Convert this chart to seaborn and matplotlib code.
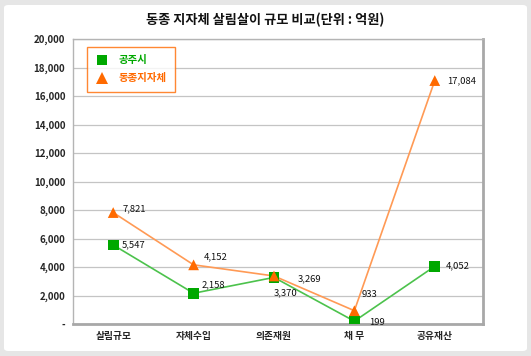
import matplotlib
matplotlib.use("Agg")
import matplotlib.pyplot as plt
import matplotlib.patches as mpatches
from matplotlib.lines import Line2D
import seaborn as sns
import pandas as pd

categories = ["살림규모", "자체수입", "의존재원", "채 무", "공유재산"]
gongju = [5547, 2158, 3269, 199, 4052]
peer = [7821, 4152, 3370, 933, 17084]
series_names = ["공주시", "동종지자체"]
y_ticks = [0, 2000, 4000, 6000, 8000, 10000, 12000, 14000, 16000, 18000, 20000]

# label offsets in points (dx, dy), styling only
gongju_offsets = [(6, 0), (6, 6), (17, -1), (11, -1), (8, 0)]
peer_offsets = [(7, 3), (7, 6), (0, -12), (5, 12), (9, 0)]

df = pd.DataFrame({
    "category": categories * 2,
    "value": gongju + peer,
    "series": [series_names[0]] * 5 + [series_names[1]] * 5,
})

sns.set_style("white")
plt.rcParams["font.family"] = ["Noto Sans CJK KR", "DejaVu Sans"]

marker_colors = {"공주시": "#00a800", "동종지자체": "#ff6a00"}
line_colors = {"공주시": "#4cc24c", "동종지자체": "#ff9a55"}
markers = {"공주시": "s", "동종지자체": "^"}

fig = plt.figure(figsize=(5.31, 3.56), dpi=100)
fig.patch.set_facecolor("#e6e6e6")
panel = mpatches.FancyBboxPatch(
    (4 / 531, 5 / 356), 523 / 531, 346 / 356,
    boxstyle="round,pad=0,rounding_size=0.008",
    transform=fig.transFigure, facecolor="white", edgecolor="none")
panel.set_zorder(-10)
fig.patches.append(panel)

ax = fig.add_axes([73 / 531, 32 / 356, 410 / 531, 285 / 356])
ax.set_facecolor("white")

sns.lineplot(data=df, x="category", y="value", hue="series",
             palette=line_colors, linewidth=1.2, legend=False, ax=ax,
             sort=False, zorder=2)
sns.scatterplot(data=df, x="category", y="value", hue="series",
                style="series", markers=markers, palette=marker_colors,
                s=60, linewidth=0, legend=False, ax=ax, zorder=3)

for i in range(len(categories)):
    ax.annotate(f"{gongju[i]:,}", (i, gongju[i]), xytext=gongju_offsets[i],
                textcoords="offset points", ha="left", va="center",
                fontsize=6.8, color="#111111", zorder=4)
    ax.annotate(f"{peer[i]:,}", (i, peer[i]), xytext=peer_offsets[i],
                textcoords="offset points", ha="left", va="center",
                fontsize=6.8, color="#111111", zorder=4)

ax.set_xlim(-0.5, 4.6)
ax.set_ylim(0, 20000)
ax.set_yticks(y_ticks)
ax.set_yticklabels(["-" if v == 0 else f"{v:,}" for v in y_ticks],
                   fontsize=7, fontweight="bold")
ax.set_xticks(range(len(categories)))
ax.set_xticklabels(categories, fontsize=7, fontweight="bold")
ax.tick_params(axis="both", length=0)
ax.tick_params(axis="y", pad=5.5)
ax.tick_params(axis="x", pad=5)
ax.set_xlabel("")
ax.set_ylabel("")
ax.yaxis.grid(True, color="#c4c4c4", linewidth=0.9)
ax.set_axisbelow(True)

for side in ["left", "top"]:
    ax.spines[side].set_color("#b4b4b4")
    ax.spines[side].set_linewidth(1.0)
for side in ["right", "bottom"]:
    ax.spines[side].set_color("#a8a8a8")
    ax.spines[side].set_linewidth(2.0)

handles = [
    Line2D([], [], linestyle="none", marker="s", markersize=7,
           markerfacecolor=marker_colors["공주시"], markeredgewidth=0),
    Line2D([], [], linestyle="none", marker="^", markersize=8,
           markerfacecolor=marker_colors["동종지자체"], markeredgewidth=0),
]
leg = ax.legend(handles, series_names, loc="upper left",
                bbox_to_anchor=(14 / 410, 1 - 8 / 285), frameon=True,
                fancybox=False, fontsize=7.5, handletextpad=1.0,
                borderpad=0.8, labelspacing=0.75, borderaxespad=0,
                handlelength=1.2)
leg.get_frame().set_edgecolor("#ff6a00")
leg.get_frame().set_linewidth(1.0)
for text, name in zip(leg.get_texts(), series_names):
    text.set_color(marker_colors[name])
    text.set_fontweight("bold")

fig.text(0.5, 1 - 20 / 356, "동종 지자체 살림살이 규모 비교(단위 : 억원)",
         ha="center", va="center", fontsize=9.5, fontweight="bold",
         color="#111111")

fig.savefig("out.png", dpi=100, facecolor=fig.get_facecolor())
